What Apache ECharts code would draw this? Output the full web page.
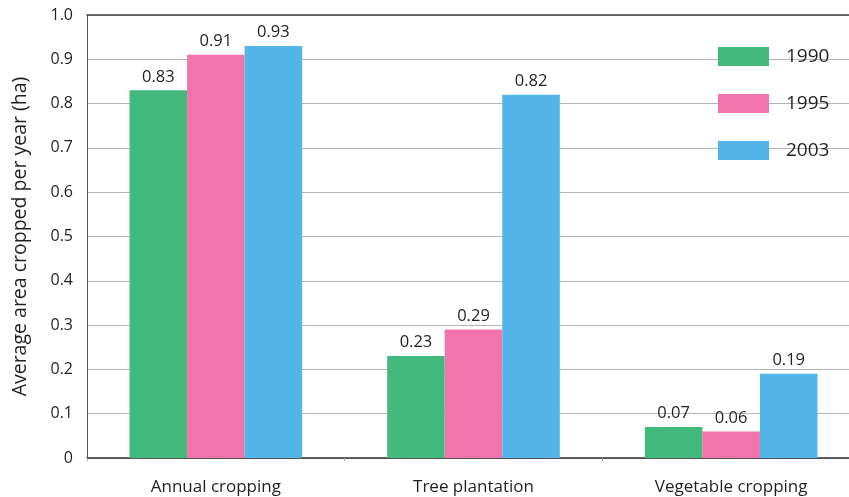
<!DOCTYPE html>
<html>
<head>
<meta charset="utf-8">
<script src="https://cdn.jsdelivr.net/npm/echarts@6/dist/echarts.min.js"></script>
<style>
  html, body { margin: 0; padding: 0; background: #fff; overflow: hidden; }
  /* the plot runs a little past the right edge of the window */
  #chart { width: 860px; height: 497px; }
</style>
</head>
<body>
<div id="chart"></div>
<script>
// Land use categories and average cropped area per year (ha)
const categories = ['Annual cropping', 'Tree plantation', 'Vegetable cropping'];
const years = ['1990', '1995', '2003'];
const values1990 = [0.83, 0.23, 0.07];
const values1995 = [0.91, 0.29, 0.06];
const values2003 = [0.93, 0.82, 0.19];
const yTicks = [0, 0.1, 0.2, 0.3, 0.4, 0.5, 0.6, 0.7, 0.8, 0.9, 1.0];

const colors = ['#43ba7d', '#f174ac', '#53b5e8'];
const font = 'Open Sans';
const textColor = '#231f20';

const chart = echarts.init(document.getElementById('chart'), null, { renderer: 'canvas' });

function barSeries(name, data, color) {
  return {
    name: name,
    type: 'bar',
    data: data,
    barGap: '0%',
    barCategoryGap: '33%',
    itemStyle: { color: color },
    label: {
      show: true,
      position: 'top',
      distance: 5,
      color: textColor,
      fontFamily: font,
      fontSize: 16.5,
      formatter: p => p.value.toFixed(2)
    }
  };
}

chart.setOption({
  animation: false,
  grid: { left: 87, top: 15, right: 0, bottom: 39, containLabel: false },
  legend: {
    orient: 'vertical',
    left: 718,
    top: 47,
    padding: 0,
    itemWidth: 51,
    itemHeight: 19,
    itemGap: 28,
    icon: 'rect',
    textStyle: { fontFamily: font, fontSize: 19, color: textColor, padding: [0, 0, 0, 12], lineHeight: 19 },
    data: years
  },
  xAxis: [{
    type: 'category',
    data: categories,
    boundaryGap: true,
    axisLine: { lineStyle: { color: '#333', width: 1.5 } },
    axisTick: { show: true, length: 3, lineStyle: { color: '#aaa' } },
    axisLabel: { fontFamily: font, fontSize: 17, color: textColor, margin: 21 }
  }, {
    type: 'category',
    position: 'top',
    data: categories,
    axisLine: { show: true, lineStyle: { color: '#444', width: 1.5 } },
    axisTick: { show: false },
    axisLabel: { show: false }
  }],
  yAxis: {
    type: 'value',
    min: 0,
    max: 1,
    interval: 0.1,
    name: 'Average area cropped per year (ha)',
    nameLocation: 'middle',
    nameRotate: 90,
    nameGap: 57,
    nameTextStyle: { fontFamily: font, fontSize: 19.5, color: textColor },
    axisLine: { show: true, lineStyle: { color: '#555', width: 1 } },
    axisTick: { show: false },
    axisLabel: {
      fontFamily: font, fontSize: 16, color: textColor, margin: 14,
      formatter: v => {
        const t = yTicks.find(x => Math.abs(x - v) < 1e-9);
        return t === 0 ? '0' : t.toFixed(1);
      }
    },
    splitLine: { show: true, lineStyle: { color: '#b5b5b5', width: 1.2 } }
  },
  series: [
    barSeries(years[0], values1990, colors[0]),
    barSeries(years[1], values1995, colors[1]),
    barSeries(years[2], values2003, colors[2])
  ]
});
</script>
</body>
</html>
